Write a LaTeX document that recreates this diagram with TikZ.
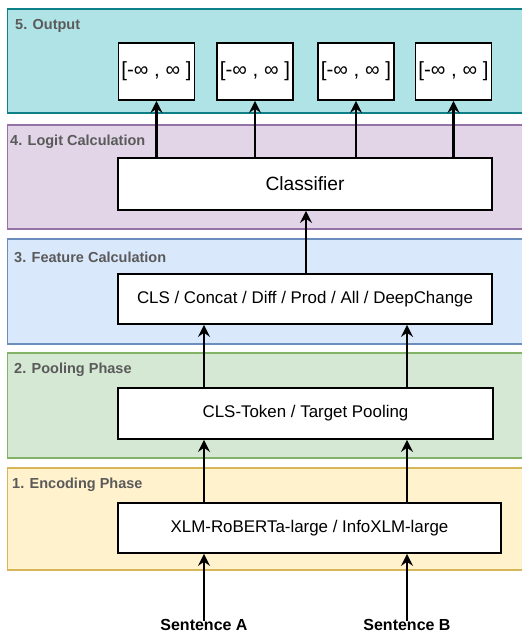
\documentclass[tikz,border=0pt]{standalone}
\usepackage{fontspec}
\setmainfont{Liberation Sans}
\usetikzlibrary{arrows.meta}
\definecolor{outF}{HTML}{B0E3E6}\definecolor{outD}{HTML}{0E8088}
\definecolor{logF}{HTML}{E1D5E7}\definecolor{logD}{HTML}{9673A6}
\definecolor{feaF}{HTML}{DAE8FC}\definecolor{feaD}{HTML}{6C8EBF}
\definecolor{poolF}{HTML}{D5E8D4}\definecolor{poolD}{HTML}{82B366}
\definecolor{encF}{HTML}{FFF2CC}\definecolor{encD}{HTML}{D6B656}
\definecolor{labG}{HTML}{5A5A5A}
\begin{document}
\begin{tikzpicture}[x=1pt,y=-1pt,
  panel/.style={line width=1.3pt},
  plabel/.style={anchor=west,text=labG,font=\fontsize{14.5}{17}\selectfont\bfseries,inner sep=0pt},
  box/.style={draw=black,fill=white,line width=1.7pt,inner sep=0pt,font=\fontsize{16.9}{20}\selectfont},
  obox/.style={box,minimum width=76pt,minimum height=57pt,font=\fontsize{20.5}{24}\selectfont},
  arr/.style={line width=2.7pt,-{Stealth[length=12pt,width=12pt,inset=4pt]}},
  sent/.style={font=\fontsize{16}{19}\selectfont\bfseries,inner sep=0pt}
]
\path[use as bounding box,fill=white] (0,0) rectangle (522,633);
% panels
\draw[panel,fill=outF,draw=outD] (7.5,9) rectangle (530,113);
\draw[panel,fill=logF,draw=logD] (7.5,125) rectangle (530,229);
\draw[panel,fill=feaF,draw=feaD] (7.5,239) rectangle (530,344);
\draw[panel,fill=poolF,draw=poolD] (7.5,353) rectangle (530,458);
\draw[panel,fill=encF,draw=encD] (7.5,468) rectangle (530,570);
\node[plabel] (l5) at (15,26) {5. Output};
\node[plabel] (l4) at (10,142) {4. Logit Calculation};
\node[plabel] (l3) at (14,257) {3. Feature Calculation};
\node[plabel] (l2) at (14,370) {2. Pooling Phase};
\node[plabel] (l1) at (12,485) {1. Encoding Phase};
% boxes
\node[obox] (o1) at (156.5,71.5) {[-∞ , ∞ ]};
\node[obox] (o2) at (255,71.5) {[-∞ , ∞ ]};
\node[obox] (o3) at (356,71.5) {[-∞ , ∞ ]};
\node[obox] (o4) at (453.5,71.5) {[-∞ , ∞ ]};
\node[box,minimum width=374pt,minimum height=52pt,font=\fontsize{19.2}{22}\selectfont] (cls) at (305,184) {Classifier};
\node[box,minimum width=374pt,minimum height=50pt] (feat) at (305,299) {CLS / Concat / Diff / Prod / All / DeepChange};
\node[box,minimum width=375pt,minimum height=51pt] (pool) at (305.5,413.5) {CLS-Token / Target Pooling};
\node[box,minimum width=383pt,minimum height=50pt] (enc) at (309.5,528) {XLM-RoBERTa-large / InfoXLM-large};
\node[sent] (sa) at (204,625) {Sentence A};
\node[sent] (sb) at (407,625) {Sentence B};
% arrows
\draw[arr] ([yshift=-2pt]sa.north) -- (enc.south -| sa);
\draw[arr] ([yshift=-2pt]sb.north) -- (enc.south -| sb);
\draw[arr] (enc.north -| sa) -- (pool.south -| sa);
\draw[arr] (enc.north -| sb) -- (pool.south -| sb);
\draw[arr] (pool.north -| sa) -- (feat.south -| sa);
\draw[arr] (pool.north -| sb) -- (feat.south -| sb);
\draw[arr] (feat.north -| 306,0) -- (cls.south -| 306,0);
\foreach \o in {o1,o2,o3,o4}{
  \draw[arr] (cls.north -| \o) -- (\o.south);
}
\end{tikzpicture}
\end{document}
